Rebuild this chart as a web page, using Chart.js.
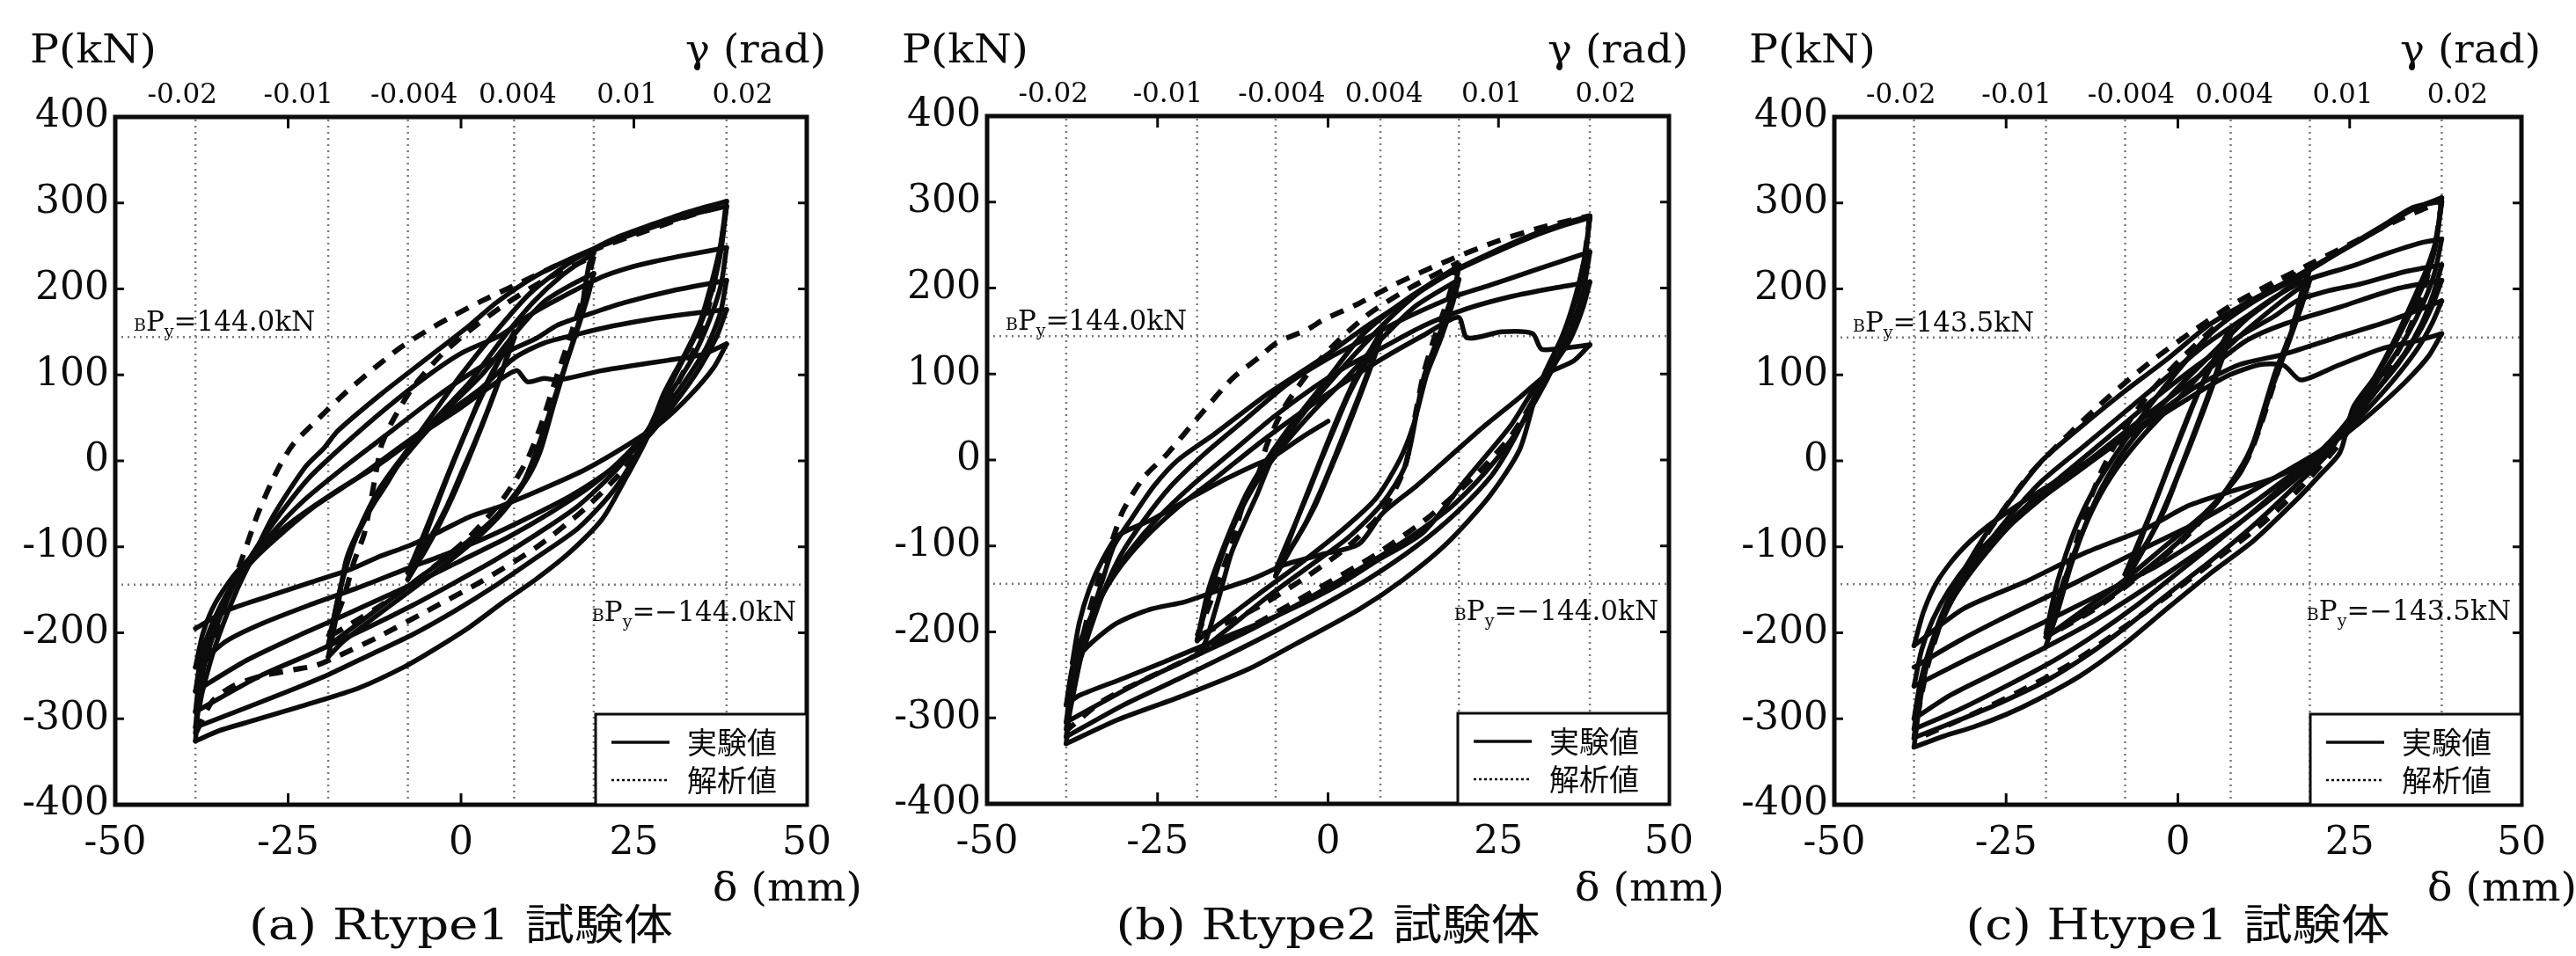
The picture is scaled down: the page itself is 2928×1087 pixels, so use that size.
<!DOCTYPE html>
<html>
<head>
<meta charset="utf-8">
<script src="https://cdn.jsdelivr.net/npm/chart.js@4.4.1/dist/chart.umd.min.js"></script>
<style>
html, body { margin: 0; padding: 0; background: #fff; }
#wrap { position: relative; width: 2928px; height: 1087px; overflow: hidden; background: #fff; }
canvas { position: absolute; top: 0; }
</style>
</head>
<body>
<div id="wrap">
  <canvas id="c0" width="990" height="1087" style="left:0px"></canvas>
  <canvas id="c1" width="970" height="1087" style="left:990px"></canvas>
  <canvas id="c2" width="968" height="1087" style="left:1960px"></canvas>
</div>
<script>
// ---- data (delta in mm, P in kN) ----
const panelTitles = ['(a) Rtype1 試験体', '(b) Rtype2 試験体', '(c) Htype1 試験体'];
const legendLabels = ['実験値', '解析値'];
const yieldLoads = [144.0, 144.0, 143.5];
const gammaLabels = ['-0.02', '-0.01', '-0.004', '0.004', '0.01', '0.02'];
const gammaLabelPos = [-40.3, -23.5, -6.8, 8.2, 24, 40.7];   // where the γ labels sit, in δ
const gammaGridDelta = [-38.4, -19.2, -7.68, 7.68, 19.2, 38.4]; // dotted lines, δ = γ·1920mm

// (a) Rtype1 experiment
const rtype1Exp = [
  [[-7.7,-138],[-6,-105],[-4,-62],[-2,-20],[0,20],[2,58],[4,92],[6,125],[7.7,150]],
  [[7.7,150],[6.5,118],[5,82],[3,40],[1,0],[-1,-38],[-3,-72],[-5,-102],[-7.7,-138]],
  [[-7.7,-130],[-5.5,-88],[-3,-38],[-1,2],[1,40],[3,78],[5,110],[7.7,143]],
  [[7.7,143],[6,105],[4,62],[2,22],[0,-15],[-2,-52],[-4.5,-90],[-7.7,-130]],
  [[-19.2,-228],[-18,-180],[-16.6,-115],[-14,-68],[-11,-30],[-8.9,-3],[-3.8,48],[1.3,92],[6,142],[10.5,185],[14.5,215],[19.2,242]],
  [[19.2,242],[18.5,228],[17.2,167],[15.3,116],[13.4,65],[11.5,12],[9.6,-20],[6,-60],[2,-92],[-3,-125],[-8,-155],[-13,-185],[-17,-210],[-19.2,-228]],
  [[-19.2,-215],[-17.8,-160],[-16,-105],[-13,-55],[-10,-15],[-6,25],[-2,60],[3,100],[8,150],[12,185],[16,205],[19.2,218]],
  [[19.2,218],[18.3,190],[16.6,147],[14,85],[11.5,25],[9,-25],[5,-65],[0,-100],[-5,-130],[-10,-160],[-15,-190],[-19.2,-215]],
  [[-19.2,-215],[-17.5,-150],[-15,-85],[-12,-35],[-8,10],[-4,55],[0,100],[5,150],[10,195],[16,232],[22,258],[28,276],[33,290],[38.4,302]],
  [[38.4,302],[37.5,250],[36,200],[34.5,160],[32.5,126],[29.3,78],[26.8,25],[23.5,-25],[20.4,-68],[15.5,-108],[10.8,-138],[6,-165],[1.3,-193],[-4,-220],[-8.3,-240],[-14.7,-264],[-20,-278],[-24.2,-288],[-30,-302],[-35,-314],[-38.4,-326]],
  [[-38.4,-326],[-38,-290],[-37,-256],[-35.8,-222],[-34.4,-190],[-32.5,-152],[-30.6,-120],[-27.3,-66],[-22.6,-8],[-19.8,15],[-17.8,35],[-11.5,78],[-5.1,118],[1.3,158],[5.1,184],[10.8,215],[17.2,240],[23.6,260],[30,278],[34,288],[38.4,296]],
  [[38.4,296],[37.6,245],[36.2,195],[34.3,152],[31.5,108],[28.5,60],[25.5,10],[22,-35],[17,-78],[11,-112],[5,-145],[-1,-175],[-7,-202],[-13,-225],[-19,-248],[-25,-268],[-31,-287],[-38.4,-310]],
  [[-38.4,-310],[-37.8,-265],[-36.8,-228],[-35,-185],[-32.5,-140],[-29.5,-100],[-26,-60],[-22,-20],[-17,18],[-11,60],[-5,98],[0,125],[5.7,146],[10,170],[14,188],[20.4,214],[24,224],[28,232],[33,240],[38.4,248]],
  [[38.4,248],[37.6,205],[36,165],[33.5,120],[30,75],[26.5,30],[22.5,-10],[17,-52],[11,-85],[5,-115],[-1,-142],[-7,-168],[-14,-196],[-21,-222],[-29,-250],[-38.4,-292]],
  [[-38.4,-292],[-37.7,-245],[-36.5,-205],[-34.5,-165],[-31.5,-125],[-28,-90],[-23,-48],[-17,-8],[-10,35],[-4,72],[2,105],[7,128],[11,143],[14,158],[19,172],[23.6,184],[30.6,198],[38.4,210]],
  [[38.4,210],[37.5,172],[35.5,132],[32,88],[28,45],[24,8],[19,-28],[13,-60],[7,-88],[1,-112],[-5,-136],[-11,-158],[-17,-180],[-24,-205],[-31,-232],[-38.4,-268]],
  [[-38.4,-268],[-37.5,-225],[-36,-190],[-33.5,-150],[-30,-115],[-26,-85],[-21,-52],[-15,-20],[-9,15],[-3,50],[3,85],[7.6,119],[12,137],[17.2,148],[22,157],[26.8,164],[32,170],[38.4,176]],
  [[38.4,176],[37,145],[34.5,108],[31,68],[27,28],[22,-8],[16,-40],[10,-65],[4,-88],[-2,-108],[-8,-126],[-15,-148],[-22,-168],[-29,-190],[-34,-210],[-38.4,-240]],
  [[-38.4,-240],[-37.3,-200],[-35.5,-165],[-32.5,-130],[-28.5,-98],[-24,-68],[-18,-35],[-12,-5],[-6,30],[0,62],[4,85],[8,105],[9.6,92],[12,96],[14,94],[20.4,105],[25,111],[30,117],[35,124],[38.4,136]],
  [[38.4,136],[36.5,108],[33,75],[29,45],[24,18],[18,-10],[12,-32],[6,-52],[1.3,-65],[-3,-82],[-7.6,-99],[-12,-112],[-15.9,-126],[-22,-142],[-28,-158],[-33.8,-174],[-38.4,-195]]
];
// (a) Rtype1 analysis
const rtype1Ana = [
  [[-38.4,-318],[-37.5,-270],[-36,-220],[-34,-165],[-31.5,-110],[-29.3,-60],[-26.5,-10],[-24.2,20],[-20.5,50],[-16.6,80],[-12.5,108],[-8.9,131],[-5,151],[-1.3,168],[3,186],[8,205],[14,228],[20,248],[27,268],[33,285],[38.4,298]],
  [[38.4,298],[37.4,240],[36,185],[34,135],[31,85],[27.5,35],[23.5,-10],[18,-55],[11,-100],[3,-140],[-5,-175],[-12,-205],[-18,-228],[-21,-238],[-24.2,-243],[-28.7,-250],[-33,-262],[-36,-280],[-38.4,-318]],
  [[-19.2,-205],[-17,-160],[-15.5,-118],[-14,-85],[-13,-45],[-12.1,-5],[-11.5,18],[-10,45],[-7,85],[-3,122],[1,150],[6,180],[12,210],[19.2,238]],
  [[19.2,238],[18,200],[16,150],[13.5,90],[11.5,40],[9.5,0],[6,-45],[1,-90],[-5,-130],[-11,-165],[-16,-190],[-19.2,-205]]
];

// (b) Rtype2 experiment
const rtype2Exp = [
  [[-7.7,-135],[-6,-100],[-4,-58],[-2,-18],[0,22],[2,60],[4,95],[6,125],[7.7,148]],
  [[7.7,148],[6.4,115],[4.8,80],[2.8,40],[0.8,0],[-1.2,-38],[-3.2,-72],[-5.2,-100],[-7.7,-135]],
  [[-7.7,-128],[-5.4,-85],[-3,-40],[-1,0],[1,38],[3,75],[5.2,108],[7.7,140]],
  [[7.7,140],[6,102],[4,60],[2,20],[0,-18],[-2,-55],[-4.6,-92],[-7.7,-128]],
  [[-19.2,-225],[-18,-212],[-16,-160],[-14.2,-109],[-12,-68],[-10.4,-40],[-8,5],[-4,50],[0,88],[5,132],[10,172],[15,205],[19.2,226]],
  [[19.2,226],[18.6,200],[17.5,175],[16.5,150],[14,95],[11.4,-5],[8,-50],[3,-90],[-3,-125],[-9,-160],[-14,-192],[-19.2,-225]],
  [[-19.2,-210],[-17.5,-160],[-15.5,-110],[-13,-62],[-10,-20],[-6,22],[-2,58],[3,98],[8,142],[13,180],[19.2,210]],
  [[19.2,210],[18.2,180],[16.5,140],[14.5,100],[12.5,40],[10.5,0],[7,-45],[2,-82],[-4,-120],[-10,-155],[-15,-185],[-19.2,-210]],
  [[-19.2,-210],[-17.5,-150],[-15,-95],[-12,-40],[-9,0],[-5,45],[0,95],[5,145],[10.8,183],[17.2,215],[23.6,240],[30,262],[35,276],[38.4,284]],
  [[38.4,284],[37.8,240],[36.5,190],[34.8,150],[33.2,122],[30.6,78],[28.1,12],[23.6,-43],[17.3,-98],[10.9,-140],[4.5,-174],[-5.2,-216],[-11.6,-243],[-21.2,-274],[-30.8,-302],[-38.4,-330]],
  [[-38.4,-330],[-37.9,-295],[-37.1,-262],[-36,-220],[-34.6,-178],[-33,-138],[-31.4,-100],[-28.8,-68],[-25.5,-30],[-22,0],[-16.7,30],[-9,76],[-1.3,116],[5,152],[10.8,182],[17.2,214],[23.6,238],[30,260],[35,274],[38.4,282]],
  [[38.4,282],[37.6,235],[36.2,188],[34.4,145],[32,105],[29.5,60],[27,20],[24,-18],[19,-60],[13,-100],[6,-138],[-1,-170],[-8,-200],[-15,-228],[-22,-255],[-30,-285],[-38.4,-322]],
  [[-38.4,-322],[-37.8,-285],[-36.8,-245],[-35,-200],[-33,-155],[-30.5,-112],[-27,-70],[-23,-30],[-18,8],[-12,48],[-6,88],[0,118],[5.7,142],[10.8,163],[18.5,190],[23.6,203],[30,220],[38.4,242]],
  [[38.4,242],[37.5,200],[36,160],[33.5,115],[30.5,70],[27,25],[23,-15],[18,-55],[12,-90],[6,-120],[0,-148],[-6,-175],[-12,-200],[-20,-230],[-28,-260],[-38.4,-305]],
  [[-38.4,-305],[-37.7,-265],[-36.5,-225],[-34.5,-182],[-32,-140],[-29,-105],[-25,-68],[-20,-30],[-14,10],[-8,50],[-2,85],[3,110],[7.6,129],[14,156],[20.4,176],[26.8,190],[33.2,200],[38.4,207]],
  [[38.4,207],[37.3,175],[35.5,140],[33,110],[30,80],[26.8,40],[20,-25],[14,-84],[7,-118],[1.2,-147],[-5,-172],[-11.6,-195],[-18,-215],[-24.4,-236],[-30,-254],[-36.5,-274],[-38.4,-285]],
  [[-38.4,-285],[-37.6,-245],[-36.3,-210],[-34,-170],[-31,-130],[-27,-92],[-22,-55],[-16,-18],[-10,20],[-4,55],[2,88],[8,118],[14,145],[19.1,166],[20.4,142],[25.5,149],[30,147],[31.3,129],[34.5,130],[38.4,134]],
  [[38.4,134],[36,115],[32.5,102],[28,72],[23,40],[18,5],[13,-30],[8,-62],[4.5,-98],[-1,-110],[-6.4,-122],[-11,-138],[-16.6,-153],[-21,-165],[-26.2,-174],[-31,-190],[-35,-215],[-37.5,-236]],
  [[-37.5,-236],[-36.5,-190],[-35,-150],[-33,-115],[-30.8,-88],[-26,-70],[-21,-48],[-15,-22],[-10.5,-5],[-8.4,2],[-3.9,26],[0,45]]
];
// (b) Rtype2 analysis
const rtype2Ana = [
  [[-38.4,-315],[-37.3,-255],[-35.5,-190],[-33.5,-135],[-31.5,-90],[-30,-58],[-27,-20],[-23.6,7],[-19,50],[-14,95],[-10,120],[-7.6,136],[-3,152],[-0.7,163],[4,180],[10,205],[17,230],[25,255],[32,272],[38.4,284]],
  [[38.4,284],[37.4,225],[35.8,170],[33.5,120],[30.5,75],[27,30],[22,-15],[15,-65],[7,-110],[-2,-152],[-10,-188],[-18,-222],[-26,-252],[-33,-280],[-38.4,-315]],
  [[-19.2,-205],[-16.5,-150],[-14,-95],[-12.1,-43],[-10.2,-16],[-9,17],[-6.5,60],[-3,100],[1,135],[6,170],[12,200],[19.2,230]],
  [[19.2,230],[17.5,185],[15.5,140],[14,100],[12.5,40],[11.2,-10],[8,-60],[3,-100],[-3,-135],[-10,-170],[-15,-190],[-19.2,-205]]
];

// (c) Htype1 experiment
const htype1Exp = [
  [[-7.7,-140],[-6,-105],[-4,-62],[-2,-20],[0,22],[2,62],[4,98],[6,130],[7.7,155]],
  [[7.7,155],[6.4,122],[4.8,85],[2.8,42],[0.8,0],[-1.2,-40],[-3.2,-76],[-5.2,-106],[-7.7,-140]],
  [[-7.7,-132],[-5.4,-88],[-3,-42],[-1,0],[1,40],[3,80],[5.2,115],[7.7,147]],
  [[7.7,147],[6,108],[4,64],[2,22],[0,-18],[-2,-58],[-4.6,-96],[-7.7,-132]],
  [[-19.2,-215],[-17.5,-175],[-15.5,-120],[-13,-65],[-11,-30],[-8,10],[-4,50],[0,85],[5,125],[10,165],[15,195],[19.2,222]],
  [[19.2,222],[18.3,205],[16.5,150],[14.2,104],[11,22],[9,-10],[5,-55],[0,-95],[-6,-135],[-12,-170],[-19.2,-205]],
  [[-19.2,-205],[-17,-150],[-14.5,-95],[-12,-50],[-9,-10],[-5,30],[0,72],[5,115],[10,152],[15,185],[19.2,210]],
  [[19.2,210],[18,180],[16,135],[13.5,80],[11.5,30],[9,-15],[4,-60],[-2,-100],[-8,-140],[-14,-175],[-19.2,-205]],
  [[-19.2,-200],[-17.5,-140],[-15,-80],[-12,-30],[-8,20],[-4,65],[0,105],[5,150],[11,185],[17.3,213],[23.6,243],[29.9,272],[34.3,293],[38.4,306]],
  [[38.4,306],[37.6,258],[36.3,225],[34.9,199],[31.8,145],[28.6,97],[25.5,62],[23.6,10],[20.5,-18],[17.3,-45],[11,-93],[4.7,-131],[-1.6,-172],[-7.9,-214],[-14.2,-250],[-20.5,-278],[-25,-295],[-29.9,-310],[-34,-320],[-38.4,-333]],
  [[-38.4,-333],[-37.8,-295],[-37.1,-259],[-36.2,-225],[-34.9,-190],[-33.2,-158],[-31.2,-128],[-28,-86],[-23.6,-38],[-19.8,0],[-14.2,39],[-7.9,80],[-1.6,118],[4.7,159],[11,188],[17.3,215],[23.6,244],[29.9,274],[34.3,295],[38.4,302]],
  [[38.4,302],[37.5,250],[36,210],[34,175],[31,128],[28,88],[25,50],[22,10],[17,-30],[11,-75],[5,-115],[-1,-152],[-7,-190],[-13,-225],[-19,-255],[-26,-282],[-32,-302],[-38.4,-322]],
  [[-38.4,-322],[-37.8,-285],[-36.9,-248],[-35.5,-210],[-33.5,-172],[-31,-135],[-28,-100],[-24,-60],[-20,-25],[-14,15],[-8,55],[-2,95],[4,135],[10,168],[14,190],[18.6,210],[25.5,227],[30,240],[35.6,254],[38.4,258]],
  [[38.4,258],[37.4,220],[35.8,185],[33.5,148],[30.5,110],[27,70],[23,30],[18,-10],[12,-52],[6,-92],[0,-130],[-6,-168],[-12,-202],[-18,-232],[-25,-262],[-32,-290],[-38.4,-312]],
  [[-38.4,-312],[-37.6,-270],[-36.5,-232],[-34.8,-192],[-32.5,-155],[-29.5,-118],[-26,-84],[-21,-45],[-15,-5],[-9,35],[-3,75],[3,112],[9,145],[14,168],[17.3,186],[22,198],[26.7,206],[33,220],[38.4,228]],
  [[38.4,228],[37.2,195],[35.5,160],[33,125],[29.5,88],[26,52],[22,15],[17,-22],[11,-60],[5,-95],[-1,-128],[-7,-160],[-13,-190],[-20,-220],[-27,-248],[-33,-272],[-38.4,-300]],
  [[-38.4,-300],[-37.5,-258],[-36.2,-220],[-34.3,-182],[-31.5,-145],[-28,-108],[-24,-72],[-19,-38],[-13,0],[-7,38],[-1,75],[5,110],[10,140],[15.4,159],[23.6,179],[31.8,200],[38.4,210]],
  [[38.4,210],[37,180],[35,148],[32,112],[28.5,78],[25,45],[20.5,10],[15,-25],[9,-60],[3,-92],[-3,-122],[-10,-150],[-17,-178],[-24,-205],[-31,-232],[-38.4,-262]],
  [[-38.4,-262],[-37.3,-220],[-35.7,-185],[-33.3,-150],[-30,-115],[-26,-82],[-21,-50],[-15,-15],[-9,20],[-3,55],[3,88],[9,112],[15.4,124],[23.6,145],[30.5,162],[38.4,186]],
  [[38.4,186],[37,160],[35,132],[32,100],[28.5,68],[24.5,35],[20,5],[14,-20],[8,-35],[1.6,-52],[-4.7,-79],[-13.5,-107],[-22.3,-141],[-31.2,-172],[-38.4,-215]],
  [[-38.4,-215],[-37,-175],[-35,-140],[-32,-108],[-28,-78],[-23,-50],[-17,-20],[-11,10],[-5,40],[1,70],[7,98],[12,112],[15.4,111],[17.9,94],[23,110],[29.9,131],[35,140],[38.4,148]],
  [[38.4,148],[36.5,122],[33.5,95],[29.5,65],[25,35],[20,8],[14,-20],[8,-48],[2,-75],[-5,-102],[-12,-130],[-19,-158],[-26,-185],[-32,-210],[-38.4,-240]]
];
// (c) Htype1 analysis
const htype1Ana = [
  [[-38.4,-325],[-37.5,-280],[-36.3,-235],[-34.5,-188],[-32,-140],[-29,-100],[-25.5,-58],[-21.5,-15],[-16,30],[-10,75],[-4,115],[2,150],[8,182],[14,208],[20,232],[26,256],[32,280],[38.4,302]],
  [[38.4,302],[37.4,250],[35.8,200],[33.5,150],[30.5,105],[27,60],[23,15],[18,-30],[12,-75],[5,-118],[-2,-160],[-9,-200],[-16,-238],[-23,-268],[-30,-295],[-38.4,-325]],
  [[-19.2,-205],[-17,-150],[-15,-100],[-13,-50],[-11,-10],[-8,35],[-4,80],[0,115],[6,160],[12,195],[19.2,225]],
  [[19.2,225],[17.8,185],[16,140],[14,90],[12,40],[10,0],[6,-45],[1,-90],[-5,-130],[-12,-172],[-19.2,-205]]
];

const expSets = [rtype1Exp, rtype2Exp, htype1Exp];
const anaSets = [rtype1Ana, rtype2Ana, htype1Ana];

// pixel margins around each plot frame inside its canvas
const panelLayout = [
  { left: 131, right: 73, top: 133, bottom: 172 },
  { left: 132, right: 63, top: 132, bottom: 173 },
  { left: 125, right: 62, top: 133, bottom: 172 }
];

const SERIF = '"DejaVu Serif", "Liberation Serif", serif';
const CJK = '"Noto Sans CJK JP", sans-serif';
const INK = '#0c0c0c';

function pts(c) { return c.map(p => ({ x: p[0], y: p[1] })); }

function drawPy(ctx, x, yMid, text, alignRight) {
  const parts = [['B', 19, 0], ['P', 31, 0], ['y', 19, 7], [text, 31, 0]];
  let w = 0;
  parts.forEach(p => { ctx.font = p[1] + 'px ' + SERIF; w += ctx.measureText(p[0]).width; });
  let cx = alignRight ? x - w : x;
  ctx.textAlign = 'left';
  ctx.textBaseline = 'alphabetic';
  parts.forEach(p => {
    ctx.font = p[1] + 'px ' + SERIF;
    ctx.fillText(p[0], cx, yMid + 11 + p[2]);
    cx += ctx.measureText(p[0]).width;
  });
}

// text squeezed/stretched horizontally to the width it has in the figure
function fitText(ctx, str, x, y, width, align) {
  const w = ctx.measureText(str).width;
  const k = width / w;
  const x0 = align === 'left' ? x : align === 'right' ? x - width : x - width / 2;
  ctx.save();
  ctx.textAlign = 'left';
  ctx.translate(x0, y);
  ctx.scale(k, 1);
  ctx.fillText(str, 0, 0);
  ctx.restore();
}

function makeDeco(idx) {
  return {
    id: 'deco' + idx,
    afterDraw(chart) {
      const { ctx, chartArea: a } = chart;
      const xs = chart.scales.x, ys = chart.scales.y;
      ctx.save();
      ctx.strokeStyle = INK;
      ctx.fillStyle = INK;
      // frame
      ctx.lineWidth = 5;
      ctx.strokeRect(a.left, a.top, a.right - a.left, a.bottom - a.top);
      // inward ticks
      ctx.lineWidth = 3;
      ctx.beginPath();
      for (let v = -300; v <= 300; v += 100) {
        const py = ys.getPixelForValue(v);
        ctx.moveTo(a.left, py); ctx.lineTo(a.left + 10, py);
        ctx.moveTo(a.right, py); ctx.lineTo(a.right - 10, py);
      }
      [-25, 0, 25].forEach(v => {
        const px = xs.getPixelForValue(v);
        ctx.moveTo(px, a.top); ctx.lineTo(px, a.top + 13);
        ctx.moveTo(px, a.bottom); ctx.lineTo(px, a.bottom - 13);
      });
      ctx.stroke();

      // yield load notes
      const py = yieldLoads[idx];
      drawPy(ctx, a.left + 21, ys.getPixelForValue(py) - 18, '=' + py.toFixed(1) + 'kN', false);
      drawPy(ctx, a.right - 12, ys.getPixelForValue(-py) + 30, '=\u2212' + py.toFixed(1) + 'kN', true);

      // legend box
      const bx = a.right - 240, by = a.bottom - 103;
      ctx.fillStyle = '#fff';
      ctx.fillRect(bx, by, 240, 103);
      ctx.fillStyle = INK;
      ctx.lineWidth = 3;
      ctx.strokeRect(bx, by, 240, 103);
      ctx.lineWidth = 3.5;
      ctx.beginPath();
      ctx.moveTo(a.right - 222, a.bottom - 71); ctx.lineTo(a.right - 156, a.bottom - 71);
      ctx.stroke();
      ctx.lineWidth = 2.5;
      ctx.setLineDash([3, 3]);
      ctx.beginPath();
      ctx.moveTo(a.right - 222, a.bottom - 28); ctx.lineTo(a.right - 156, a.bottom - 28);
      ctx.stroke();
      ctx.setLineDash([]);
      ctx.font = '34px ' + CJK;
      ctx.textAlign = 'left';
      ctx.textBaseline = 'middle';
      ctx.fillText(legendLabels[0], a.right - 136, a.bottom - 71);
      ctx.fillText(legendLabels[1], a.right - 136, a.bottom - 28);

      // axis names and caption
      ctx.font = '44px ' + SERIF;
      ctx.textBaseline = 'middle';
      fitText(ctx, 'P(kN)', a.left - 97, 60, 144, 'left');
      fitText(ctx, '\u03b3 (rad)', a.right + 22, 60, 160, 'right');
      fitText(ctx, '\u03b4 (mm)', a.right - 107, 1013, 170, 'left');
      ctx.font = '48px ' + SERIF + ', ' + CJK;
      fitText(ctx, panelTitles[idx], (a.left + a.right) / 2, 1056, 482, 'center');
      ctx.restore();
    }
  };
}

function buildPanel(idx) {
  const lay = panelLayout[idx];
  const datasets = [];
  gammaGridDelta.forEach(v => datasets.push({
    data: pts([[v, -400], [v, 400]]), showLine: true, borderColor: '#7a7a7a',
    borderWidth: 2.5, borderDash: [2, 5], pointRadius: 0, order: 10
  }));
  [yieldLoads[idx], -yieldLoads[idx]].forEach(p => datasets.push({
    data: pts([[-50, p], [50, p]]), showLine: true, borderColor: '#7a7a7a',
    borderWidth: 2.5, borderDash: [2, 5], pointRadius: 0, order: 10
  }));
  expSets[idx].forEach(c => datasets.push({
    data: pts(c), showLine: true, borderColor: INK, borderWidth: 5.5,
    pointRadius: 0, tension: 0.25, borderJoinStyle: 'round', borderCapStyle: 'round', order: 5
  }));
  anaSets[idx].forEach(c => datasets.push({
    data: pts(c), showLine: true, borderColor: INK, borderWidth: 6, borderDash: [16, 12],
    pointRadius: 0, tension: 0.25, order: 1
  }));

  const tickFont = { family: SERIF, size: 44 };
  new Chart(document.getElementById('c' + idx), {
    type: 'scatter',
    data: { datasets },
    plugins: [makeDeco(idx)],
    options: {
      responsive: false,
      animation: false,
      devicePixelRatio: 1,
      layout: { padding: 0 },
      plugins: { legend: { display: false }, tooltip: { enabled: false } },
      events: [],
      scales: {
        x: {
          type: 'linear', position: 'bottom', min: -50, max: 50,
          ticks: { stepSize: 25, color: INK, font: tickFont, padding: 18, maxRotation: 0 },
          grid: { display: false, drawTicks: false }, border: { display: false },
          afterFit: s => { s.height = lay.bottom; }
        },
        xTop: {
          type: 'linear', position: 'top', min: -50, max: 50,
          afterBuildTicks: s => { s.ticks = gammaLabelPos.map(v => ({ value: v })); },
          ticks: {
            autoSkip: false, maxRotation: 0, minRotation: 0, color: INK, padding: 5,
            font: { family: SERIF, size: 31 },
            callback: (v, i) => gammaLabels[i]
          },
          grid: { display: false, drawTicks: false }, border: { display: false },
          afterFit: s => { s.height = lay.top; }
        },
        y: {
          type: 'linear', position: 'left', min: -400, max: 400,
          ticks: { stepSize: 100, color: INK, font: tickFont, padding: 7 },
          grid: { display: false, drawTicks: false }, border: { display: false },
          afterFit: s => { s.width = lay.left; }
        },
        yR: {
          type: 'linear', position: 'right', min: -400, max: 400,
          ticks: { display: false },
          grid: { display: false, drawTicks: false }, border: { display: false },
          afterFit: s => { s.width = lay.right; }
        }
      }
    }
  });
}

[0, 1, 2].forEach(buildPanel);
</script>
</body>
</html>
